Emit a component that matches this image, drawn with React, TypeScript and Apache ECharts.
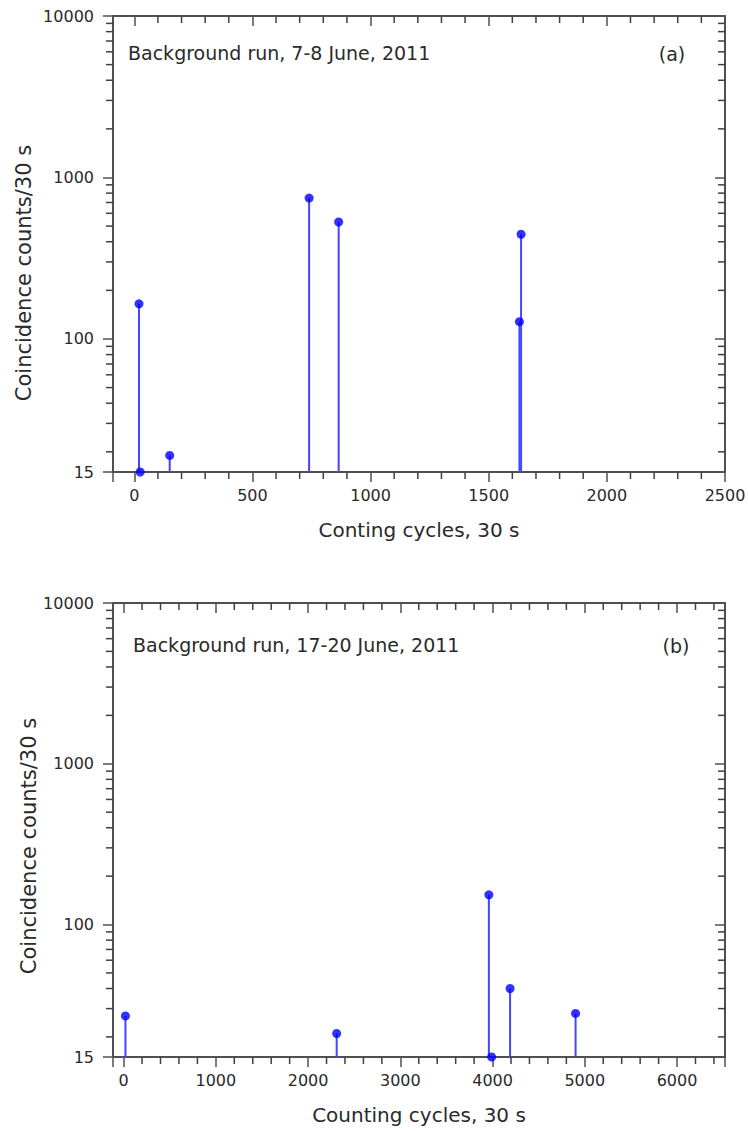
import React, { useEffect, useRef } from "react";
import * as echarts from "echarts";

// ---------- texts ----------
const titleA = "Background run, 7-8 June, 2011";
const titleB = "Background run, 17-20 June, 2011";
const tagA = "(a)";
const tagB = "(b)";
const xNameA = "Conting cycles, 30 s";
const xNameB = "Counting cycles, 30 s";
const yName = "Coincidence counts/30 s";

// ---------- data ----------
const cyclesA = [20, 25, 150, 740, 865, 1630, 1637];
const countsA = [165, 15, 19, 745, 530, 128, 445];

const cyclesB = [20, 2310, 3960, 3990, 4190, 4900];
const countsB = [27, 21, 153, 15, 40, 28];

// ---------- axes ----------
const yMin = 15;
const yMax = 10000;
const xRangeA = [-90, 2500];
const xRangeB = [-115, 6520];
const xMajorA = 500;
const xMajorB = 1000;
const yMinorTicks = [
  20, 30, 40, 50, 60, 70, 80, 90,
  200, 300, 400, 500, 600, 700, 800, 900,
  2000, 3000, 4000, 5000, 6000, 7000, 8000, 9000,
];
const xMinorA = [100, 200, 300, 400, 600, 700, 800, 900, 1100, 1200, 1300, 1400, 1600, 1700, 1800, 1900, 2100, 2200, 2300, 2400];
const xMinorB = [200, 400, 600, 800, 1200, 1400, 1600, 1800, 2200, 2400, 2600, 2800, 3200, 3400, 3600, 3800, 4200, 4400, 4600, 4800, 5200, 5400, 5600, 5800, 6200, 6400];

const FONT = "DejaVu Sans";
const AX = "#505050";
const TXT = "#2a2a2a";
const STEM = "#4545ff";
const DOT = "#0000ff";
const MINOR_LEN = 7;
const MINOR_STYLE = { stroke: "#404040", lineWidth: 1.5 };

function xAxesFor(gridIndex: number, range: number[], major: number, name: string) {
  return [
    {
      type: "value",
      gridIndex,
      min: range[0],
      max: range[1],
      position: "bottom",
      name,
      nameLocation: "middle",
      nameGap: 48,
      nameTextStyle: { fontFamily: FONT, fontSize: 20, color: TXT },
      splitLine: { show: false },
      axisLine: { show: true, onZero: false, lineStyle: { color: AX, width: 2 } },
      axisTick: { show: true, inside: false, length: 10, lineStyle: { color: AX, width: 1.5 } },
      axisLabel: {
        show: true,
        margin: 15,
        fontFamily: FONT,
        fontSize: 16,
        color: TXT,
        formatter: (v: number) => (Math.abs(v % major) < 1e-6 && v >= 0 ? String(Math.round(v)) : ""),
      },
    },
    {
      type: "value",
      gridIndex,
      min: range[0],
      max: range[1],
      position: "top",
      splitLine: { show: false },
      axisLine: { show: true, onZero: false, lineStyle: { color: AX, width: 2 } },
      axisTick: { show: true, inside: true, length: 10, lineStyle: { color: AX, width: 1.5 } },
      axisLabel: { show: false },
    },
  ];
}

function yAxesFor(gridIndex: number) {
  return [
    {
      type: "log",
      logBase: 10,
      gridIndex,
      min: yMin,
      max: yMax,
      position: "left",
      splitLine: { show: false },
      axisLine: { show: true, onZero: false, lineStyle: { color: AX, width: 2 } },
      axisTick: { show: true, inside: false, length: 10, lineStyle: { color: AX, width: 1.5 } },
      axisLabel: {
        show: true,
        margin: 19,
        fontFamily: FONT,
        fontSize: 16,
        color: TXT,
        formatter: (v: number) => String(Math.round(v)),
      },
    },
    {
      type: "log",
      logBase: 10,
      gridIndex,
      min: yMin,
      max: yMax,
      position: "right",
      splitLine: { show: false },
      axisLine: { show: true, onZero: false, lineStyle: { color: AX, width: 2 } },
      axisTick: { show: true, inside: true, length: 10, lineStyle: { color: AX, width: 1.5 } },
      axisLabel: { show: false },
    },
  ];
}

// minor ticks on the log y axes (left: outside, right: inside)
function yMinorSeries(xIdx: number, yIdx: number, range: number[]) {
  return {
    type: "custom",
    xAxisIndex: xIdx,
    yAxisIndex: yIdx,
    z: 5,
    encode: { x: 0, y: 1 },
    data: yMinorTicks.map((v) => [range[0], v]),
    renderItem: (_params: any, api: any) => {
      const p = api.coord([range[0], api.value(1)]);
      const q = api.coord([range[1], api.value(1)]);
      return {
        type: "group",
        children: [
          { type: "line", shape: { x1: p[0] - MINOR_LEN, y1: p[1], x2: p[0], y2: p[1] }, style: { ...MINOR_STYLE } },
          { type: "line", shape: { x1: q[0] - MINOR_LEN, y1: q[1], x2: q[0], y2: q[1] }, style: { ...MINOR_STYLE } },
        ],
      };
    },
  };
}

// minor ticks on the x axes (bottom: outside, top: inside)
function xMinorSeries(xIdx: number, yIdx: number, xs: number[]) {
  return {
    type: "custom",
    xAxisIndex: xIdx,
    yAxisIndex: yIdx,
    z: 5,
    encode: { x: 0, y: 1 },
    data: xs.map((v) => [v, 100]),
    renderItem: (_params: any, api: any) => {
      const b = api.coord([api.value(0), yMin]);
      const t = api.coord([api.value(0), yMax]);
      return {
        type: "group",
        children: [
          { type: "line", shape: { x1: b[0], y1: b[1], x2: b[0], y2: b[1] + MINOR_LEN }, style: { ...MINOR_STYLE } },
          { type: "line", shape: { x1: t[0], y1: t[1], x2: t[0], y2: t[1] + MINOR_LEN }, style: { ...MINOR_STYLE } },
        ],
      };
    },
  };
}

function stemSeries(xIdx: number, yIdx: number, xs: number[], ys: number[]) {
  return {
    type: "custom",
    xAxisIndex: xIdx,
    yAxisIndex: yIdx,
    z: 3,
    encode: { x: 0, y: 1 },
    data: xs.map((x, i) => [x, ys[i]]),
    renderItem: (_params: any, api: any) => {
      const x = api.value(0);
      const tip = api.coord([x, api.value(1)]);
      const base = api.coord([x, yMin]);
      return {
        type: "line",
        shape: { x1: base[0], y1: base[1], x2: tip[0], y2: tip[1] },
        style: { stroke: STEM, lineWidth: 2 },
      };
    },
  };
}

function dotSeries(xIdx: number, yIdx: number, xs: number[], ys: number[]) {
  return {
    type: "scatter",
    xAxisIndex: xIdx,
    yAxisIndex: yIdx,
    z: 4,
    symbol: "circle",
    symbolSize: 9,
    itemStyle: { color: DOT },
    data: xs.map((x, i) => [x, ys[i]]),
  };
}

export default function App() {
  const ref = useRef<HTMLDivElement>(null);

  useEffect(() => {
    if (!ref.current) return;
    const chart = echarts.init(ref.current, null, { renderer: "svg" });
    const option: any = {
      animation: false,
      backgroundColor: "#ffffff",
      grid: [
        { left: 113, top: 16, width: 612, height: 456, outerBoundsMode: "none", containLabel: false },
        { left: 113, top: 603, width: 612, height: 454, outerBoundsMode: "none", containLabel: false },
      ],
      xAxis: [...xAxesFor(0, xRangeA, xMajorA, xNameA), ...xAxesFor(1, xRangeB, xMajorB, xNameB)],
      yAxis: [...yAxesFor(0), ...yAxesFor(1)],
      series: [
        yMinorSeries(0, 0, xRangeA),
        xMinorSeries(0, 0, xMinorA),
        stemSeries(0, 0, cyclesA, countsA),
        dotSeries(0, 0, cyclesA, countsA),
        yMinorSeries(2, 2, xRangeB),
        xMinorSeries(2, 2, xMinorB),
        stemSeries(2, 2, cyclesB, countsB),
        dotSeries(2, 2, cyclesB, countsB),
      ],
      graphic: [
        {
          type: "text",
          x: 128,
          y: 53,
          style: { text: titleA, fill: TXT, font: `19px "${FONT}"`, textAlign: "left", textVerticalAlign: "middle" },
        },
        {
          type: "text",
          x: 672,
          y: 54,
          style: { text: tagA, fill: TXT, font: `19px "${FONT}"`, textAlign: "center", textVerticalAlign: "middle" },
        },
        {
          type: "text",
          x: 133,
          y: 645,
          style: { text: titleB, fill: TXT, font: `19px "${FONT}"`, textAlign: "left", textVerticalAlign: "middle" },
        },
        {
          type: "text",
          x: 676,
          y: 646,
          style: { text: tagB, fill: TXT, font: `19px "${FONT}"`, textAlign: "center", textVerticalAlign: "middle" },
        },
        {
          type: "text",
          x: 24,
          y: 273,
          rotation: Math.PI / 2,
          style: { text: yName, fill: TXT, font: `21px "${FONT}"`, textAlign: "center", textVerticalAlign: "middle" },
        },
        {
          type: "text",
          x: 29,
          y: 846,
          rotation: Math.PI / 2,
          style: { text: yName, fill: TXT, font: `21px "${FONT}"`, textAlign: "center", textVerticalAlign: "middle" },
        },
      ],
    };
    chart.setOption(option);
    return () => chart.dispose();
  }, []);

  return (
    <div
      ref={ref}
      style={{ position: "absolute", left: 0, top: 0, width: 748, height: 1132, background: "#fff" }}
    />
  );
}
